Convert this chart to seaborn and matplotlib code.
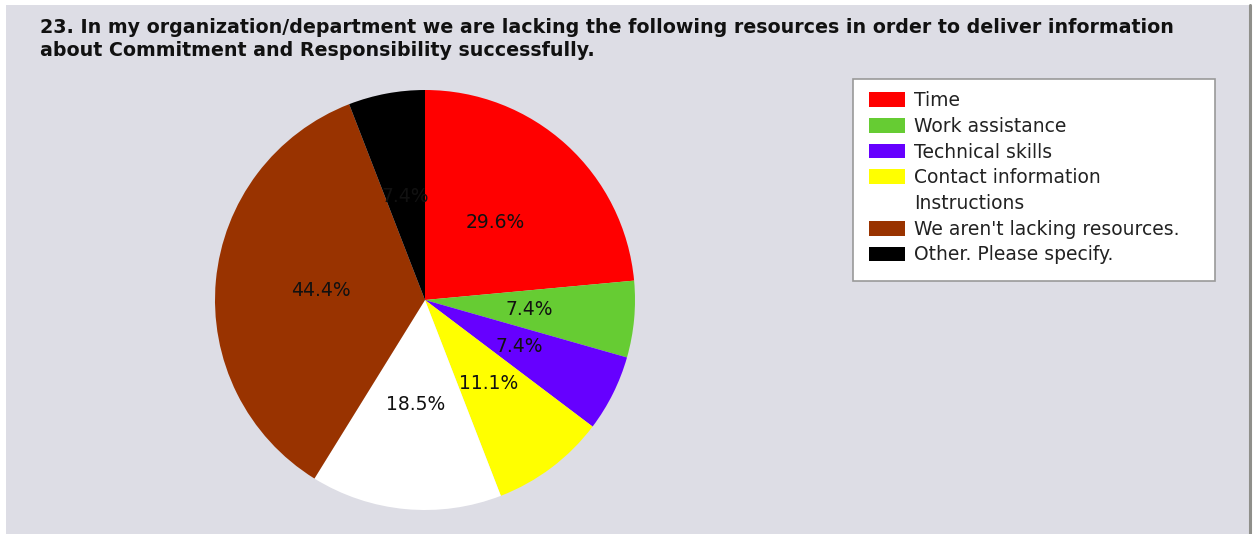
import matplotlib
matplotlib.use("Agg")
import matplotlib.pyplot as plt
from matplotlib.patches import Rectangle, Patch
import seaborn as sns

# Survey question 23: share of respondents naming each missing resource
categories = [
    "Time",
    "Work assistance",
    "Technical skills",
    "Contact information",
    "Instructions",
    "We aren't lacking resources.",
    "Other. Please specify.",
]
percent = [29.6, 7.4, 7.4, 11.1, 18.5, 44.4, 7.4]
colors = ["#ff0000", "#66cc33", "#6600ff", "#ffff00", "#ffffff", "#993300", "#000000"]
title = ("23. In my organization/department we are lacking the following resources in order to deliver information\n"
         "about Commitment and Responsibility successfully.")

sns.set_theme(style="white")
plt.rcParams["font.family"] = ["DejaVu Sans"]

W, H = 1258, 534
FS = 13.5
fig = plt.figure(figsize=(W / 100, H / 100), dpi=100, facecolor="white")

def fx(px):
    return px / W

def fy(py):
    return 1 - py / H

# grey panel behind the chart
fig.patches.append(Rectangle((fx(6), 0), fx(1243), fy(5), transform=fig.transFigure,
                             facecolor="#dddde5", edgecolor="none", zorder=-5))
fig.add_artist(plt.Line2D([fx(1250), fx(1250)], [0, fy(5)], transform=fig.transFigure,
                          color="#8f8f8a", lw=2.2, zorder=-4))

fig.text(fx(40), fy(18), title, ha="left", va="top", fontsize=13.65, fontweight="bold",
         color="#111111", linespacing=1.27)

# pie
cx, cy, r = 425, 300, 210
ax = fig.add_axes([fx(cx - r), fy(cy + r), fx(2 * r), (2 * r) / H])
ax.set_zorder(1)
ax.patch.set_visible(False)
total = sum(percent)
ax.pie(percent, colors=colors, startangle=90, counterclock=False, radius=1,
       autopct=lambda p: f"{p * total / 100:.1f}%", pctdistance=0.5,
       textprops=dict(fontsize=FS, color="#111111"),
       wedgeprops=dict(linewidth=0))
ax.set_xlim(-1, 1)
ax.set_ylim(-1, 1)
ax.set_aspect("equal")
ax.axis("off")

# legend frame and entries
fig.patches.append(Rectangle((fx(853), fy(281)), fx(362), (281 - 79) / H, transform=fig.transFigure,
                             facecolor="white", edgecolor="#999999", lw=1.2, zorder=2))
handles = [Patch(facecolor=c, edgecolor="none") for c in colors]
leg = fig.legend(handles, categories, loc="upper left", bbox_to_anchor=(fx(854), fy(76)),
                 frameon=False, fontsize=FS, handlelength=1.9, handleheight=0.85,
                 handletextpad=0.48, labelspacing=0.36, borderpad=0.3)
leg.set_zorder(3)
for t in leg.get_texts():
    t.set_color("#222222")

fig.savefig("out.png", dpi=100, facecolor="white")
